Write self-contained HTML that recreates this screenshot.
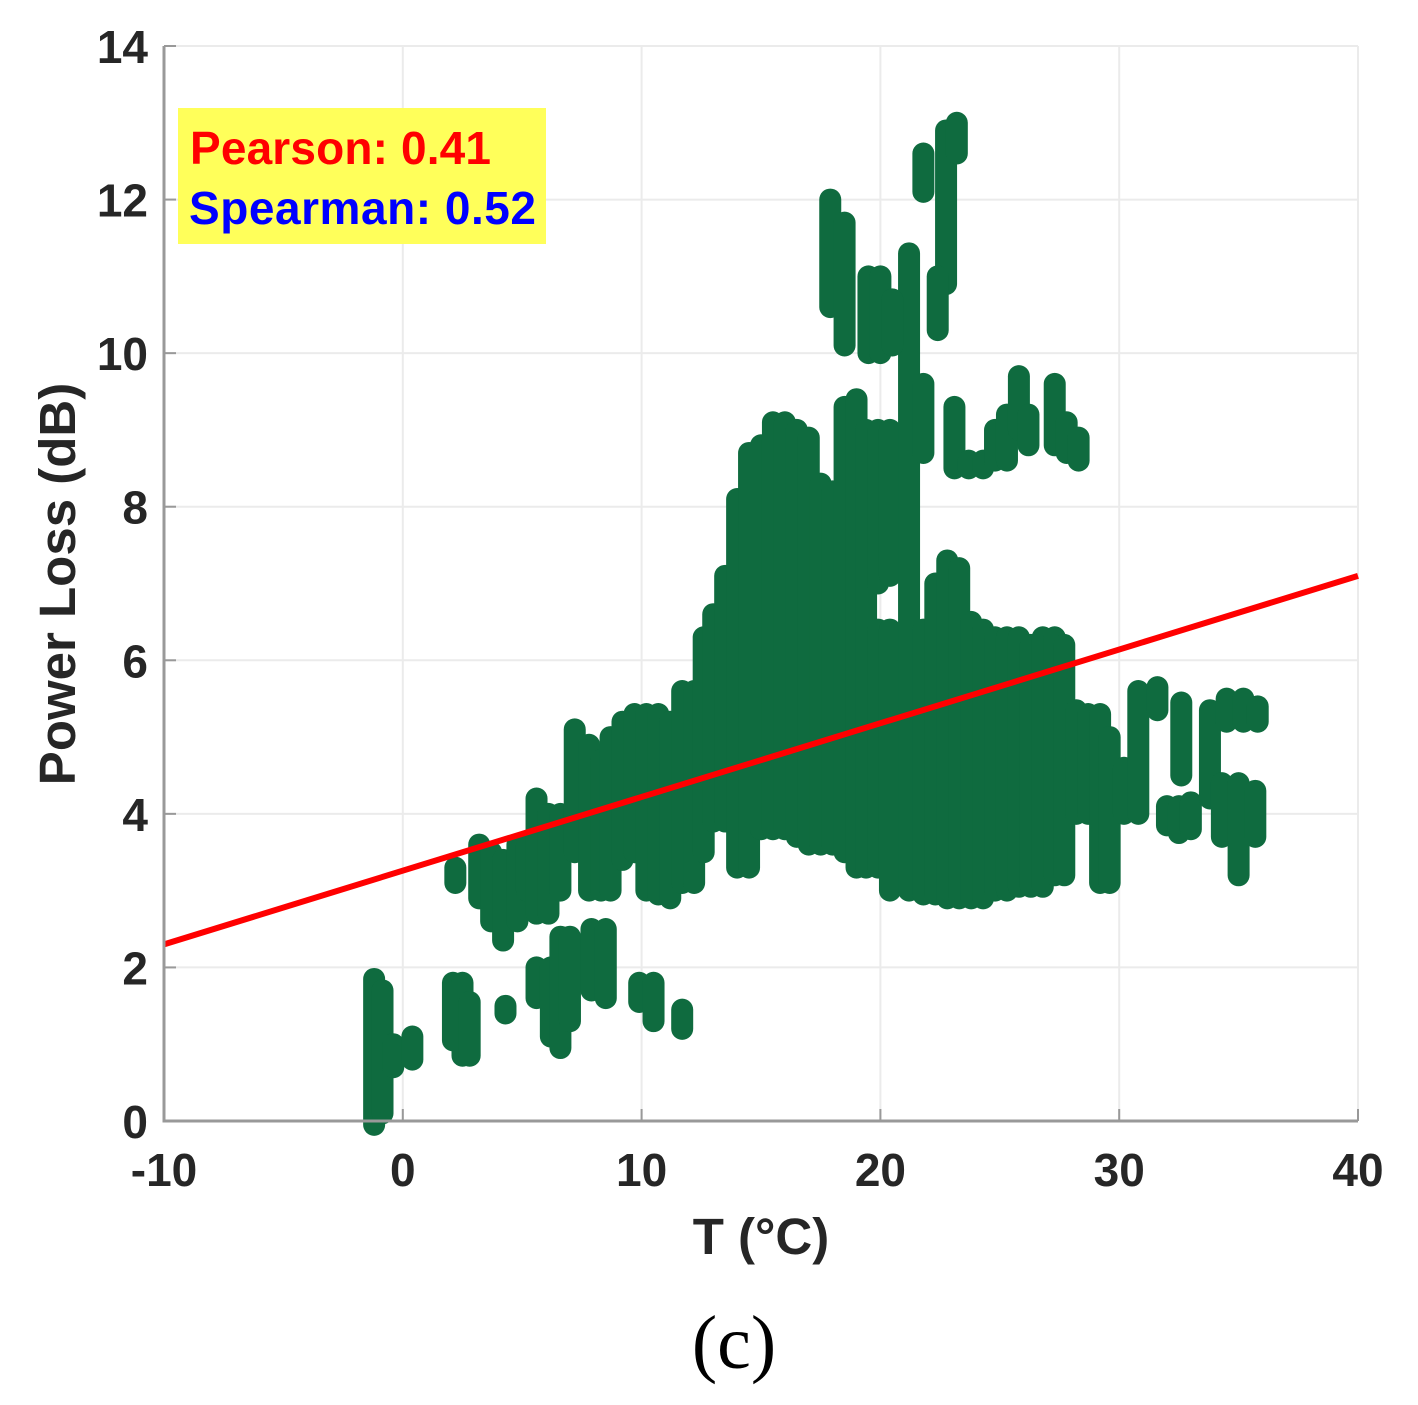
<!DOCTYPE html>
<html><head><meta charset="utf-8"><style>
html,body{margin:0;padding:0;background:#fff;}
svg{display:block;}
text{font-family:"Liberation Sans",Arial,sans-serif;}
</style></head><body>
<svg id="chart" width="1418" height="1405" viewBox="0 0 1418 1405">
<g id="grid"></g>
<g id="pts"></g>
<g id="fit"></g>
<g id="axes"></g>
<g>
<rect x="178" y="108" width="368" height="136" fill="#ffff5a"/>
<text x="190" y="164" font-size="46" font-weight="bold" fill="#ff0000" textLength="301">Pearson: 0.41</text>
<text x="189" y="224" font-size="46" font-weight="bold" fill="#0000ff" textLength="347">Spearman: 0.52</text>
</g>
<text x="761" y="1254" font-size="51" font-weight="bold" fill="#262626" text-anchor="middle">T (°C)</text>
<text transform="translate(75,584) rotate(-90)" font-size="51" font-weight="bold" fill="#262626" text-anchor="middle">Power Loss (dB)</text>
<text x="734" y="1368" font-size="76" fill="#000" text-anchor="middle" style="font-family:'Liberation Serif',serif">(c)</text>
</svg>
<script>
const xTicks=[-10,0,10,20,30,40];
const yTicks=[0,2,4,6,8,10,12,14];
// vertical runs of dense points: x, yLow, yHigh
const runX=[-1.2,-0.85,-0.4,0.4,2.1,2.5,2.8,4.3,5.6,6.2,6.6,7.0,7.9,8.5,9.9,10.5,11.7,
 2.2,3.2,3.7,4.2,4.8,5.2,5.6,6.1,6.6,7.2,7.8,8.3,8.7,9.2,9.7,10.2,10.7,11.2,11.7,12.2,12.6,
 13.0,13.5,14.0,14.5,15.0,15.5,16.0,16.5,17.0,17.5,18.0,18.5,19.0,19.4,19.9,19.9,20.4,20.4,21.2,21.8,21.8,22.3,22.8,23.3,23.8,24.3,24.8,25.3,25.8,26.3,26.8,27.3,27.7,
 28.2,28.7,29.2,29.6,30.2,30.8,31.6,32.6,32.0,32.5,33.0,33.8,34.5,35.2,35.8,34.3,35.0,35.7,
 22.75,23.2,22.4,21.8,17.9,18.5,19.5,20.0,20.5,
 23.1,23.7,24.3,24.8,25.3,25.8,26.2,27.3,27.8,28.3];
const runLo=[-0.05,0.1,0.7,0.8,1.05,0.85,0.85,1.4,1.6,1.1,0.95,1.3,1.7,1.6,1.55,1.3,1.2,
 3.1,2.9,2.6,2.35,2.6,3.0,2.7,2.7,3.0,3.5,3.0,3.0,3.0,3.4,3.5,3.0,2.95,2.9,3.1,3.1,3.5,
 3.9,3.9,3.3,3.3,3.8,3.8,3.8,3.7,3.6,3.6,3.6,3.5,3.3,3.3,3.3,7.0,3.0,7.1,3.0,2.95,8.7,2.95,2.9,2.9,2.9,2.9,3.0,3.0,3.05,3.05,3.05,3.2,3.2,
 4.0,4.0,3.1,3.1,4.0,4.0,5.35,4.5,3.85,3.75,3.8,4.2,5.2,5.2,5.2,3.7,3.2,3.7,
 10.9,12.6,10.3,12.1,10.6,10.1,10.0,10.0,10.1,
 8.5,8.5,8.5,8.6,8.6,9.0,8.8,8.8,8.7,8.6];
const runHi=[1.85,1.7,1.0,1.1,1.8,1.8,1.55,1.5,2.0,2.0,2.4,2.4,2.5,2.5,1.8,1.8,1.45,
 3.3,3.6,3.5,3.4,3.6,3.6,4.2,4.0,4.0,5.1,4.9,4.7,5.0,5.2,5.3,5.3,5.3,5.2,5.6,5.6,6.3,
 6.6,7.1,8.1,8.7,8.8,9.1,9.1,9.0,8.9,8.3,8.2,9.3,9.4,9.0,6.4,9.0,6.4,9.0,11.3,6.4,9.6,7.0,7.3,7.2,6.5,6.4,6.3,6.3,6.3,6.2,6.3,6.3,6.2,
 5.35,5.3,5.3,5.0,4.6,5.6,5.65,5.45,4.1,4.1,4.15,5.35,5.5,5.5,5.4,4.4,4.4,4.3,
 12.9,13.0,11.0,12.6,12.0,11.7,11.0,11.0,10.7,
 9.3,8.6,8.6,9.0,9.2,9.7,9.2,9.6,9.1,8.9];
const fitX=[-10,40];
const fitY=[2.3,7.1];
const NS="http://www.w3.org/2000/svg";
const X0=164,X1=1358,Y0=1121,Y1=46;
function sx(v){return X0+(v+10)/50*(X1-X0);}
function sy(v){return Y0-v/14*(Y0-Y1);}
function mk(tag,attrs,parent){const e=document.createElementNS(NS,tag);for(const k in attrs)e.setAttribute(k,attrs[k]);parent.appendChild(e);return e;}
const grid=document.getElementById('grid'),axes=document.getElementById('axes'),pts=document.getElementById('pts'),fit=document.getElementById('fit');
xTicks.forEach(t=>{
 const l=mk('line',{x1:sx(t),x2:sx(t),y1:Y1,y2:Y0,stroke:'#ebebeb','stroke-width':2},grid);
 
 
 const tk=mk('line',{x1:sx(t),x2:sx(t),y1:Y0,y2:Y0-12,stroke:'#999','stroke-width':2},axes);
 
 
 const tx=mk('text',{x:sx(t),y:1186,'font-size':46,'font-weight':'bold',fill:'#262626','text-anchor':'middle'},axes);
 tx.textContent=t;
 
 
});
yTicks.forEach(t=>{
 const l=mk('line',{x1:X0,x2:X1,y1:sy(t),y2:sy(t),stroke:'#ebebeb','stroke-width':2},grid);
 
 
 const tk=mk('line',{x1:X0,x2:X0+12,y1:sy(t),y2:sy(t),stroke:'#999','stroke-width':2},axes);
 
 
 const tx=mk('text',{x:148,y:sy(t)+17,'font-size':46,'font-weight':'bold',fill:'#262626','text-anchor':'end'},axes);
 tx.textContent=t;
 
 
});
const ax=mk('path',{d:`M${X0},${Y1}V${Y0}H${X1}`,fill:'none',stroke:'#999','stroke-width':3},axes);


runX.forEach((x,i)=>{
 const l=mk('line',{x1:sx(x),x2:sx(x),y1:sy(runLo[i]),y2:sy(runHi[i]),stroke:'#0f6b3f','stroke-width':22,'stroke-linecap':'round'},pts);
 
 
});
const fl=mk('line',{x1:sx(fitX[0]),y1:sy(fitY[0]),x2:sx(fitX[1]),y2:sy(fitY[1]),stroke:'#ff0000','stroke-width':6},fit);


</script>
</body></html>
